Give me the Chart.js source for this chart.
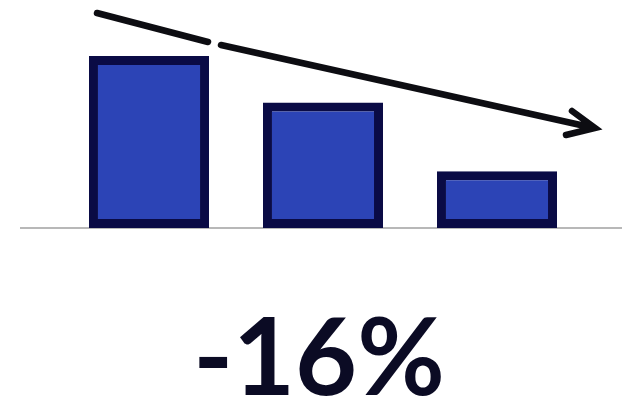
<!DOCTYPE html>
<html>
<head>
<meta charset="utf-8">
<script src="https://cdn.jsdelivr.net/npm/chart.js@4.4.0/dist/chart.umd.min.js"></script>
<style>
  html, body { margin: 0; padding: 0; background: #fff; }
  #wrap { width: 622px; height: 403px; }
</style>
</head>
<body>
<div id="wrap"><canvas id="bars"></canvas></div>
<script>
// valores (primeira barra = 100)
const categorias = ['A', 'B', 'C'];
const valores = [100, 73, 33];
const variacao = '-16%';

// linha de base, seta e texto grande
const extras = {
    id: 'extras',
    beforeDatasetsDraw(chart) {
        const ctx = chart.ctx;
        const area = chart.chartArea;
        ctx.save();
        ctx.strokeStyle = '#b8b8b8';
        ctx.lineWidth = 2;
        ctx.beginPath();
        ctx.moveTo(20, area.bottom);
        ctx.lineTo(chart.width, area.bottom);
        ctx.stroke();
        ctx.restore();
    },
    afterDraw(chart) {
        const ctx = chart.ctx;
        ctx.save();
        // seta descendo
        ctx.strokeStyle = '#0d0d12';
        ctx.lineWidth = 6.5;
        ctx.lineCap = 'round';
        ctx.beginPath();
        ctx.moveTo(97, 13);
        ctx.lineTo(208, 42);
        ctx.moveTo(221, 45);
        ctx.lineTo(594, 128);
        ctx.moveTo(572, 111);
        ctx.lineTo(595, 128);
        ctx.lineTo(566, 135);
        ctx.stroke();

        // texto
        ctx.fillStyle = '#0b0b24';
        ctx.font = 'bold 107px Lato';
        ctx.textAlign = 'center';
        ctx.textBaseline = 'alphabetic';
        ctx.fillText(variacao, 319, 395);
        ctx.restore();
    }
};

const ctx = document.getElementById('bars').getContext('2d');
const grafico = new Chart(ctx, {
    type: 'bar',
    data: {
        labels: categorias,
        datasets: [{
            data: valores,
            backgroundColor: '#2c44b6',
            borderColor: '#0a0b45',
            borderWidth: 9,
            borderSkipped: false,
            barPercentage: 0.69,
            categoryPercentage: 1
        }]
    },
    options: {
        responsive: true,
        maintainAspectRatio: false,
        animation: false,
        layout: { padding: { left: 62, right: 38, top: 0, bottom: 175 } },
        scales: {
            x: { display: false },
            y: { display: false, min: 0, max: 132.6 }
        },
        plugins: {
            legend: { display: false },
            tooltip: { enabled: false }
        }
    },
    plugins: [extras]
});
</script>
</body>
</html>
